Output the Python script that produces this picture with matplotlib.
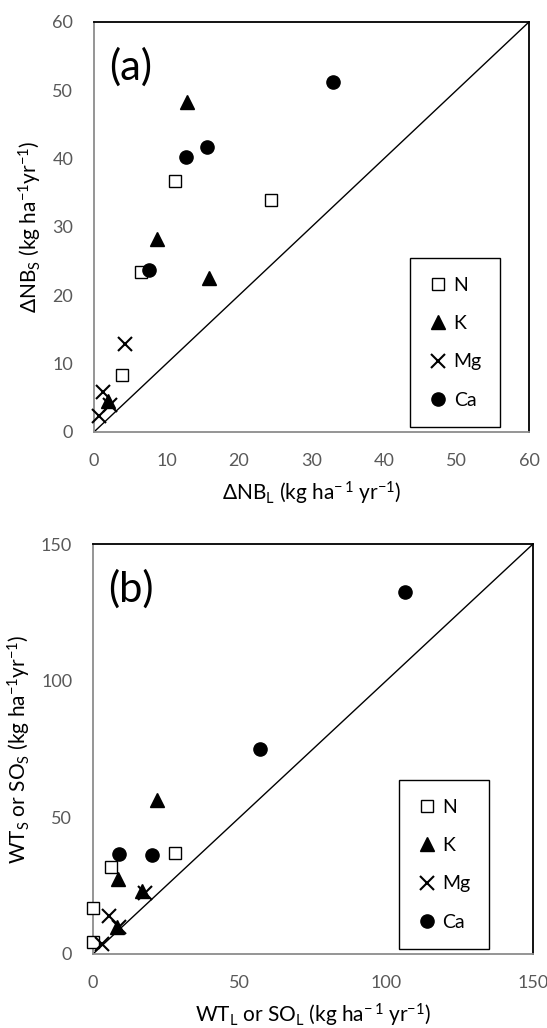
import matplotlib
matplotlib.use("Agg")
import matplotlib.pyplot as plt

plt.rcParams['font.family'] = ['Lato', 'DejaVu Sans']
plt.rcParams['mathtext.fontset'] = 'custom'
plt.rcParams['mathtext.rm'] = 'Lato'
plt.rcParams['mathtext.it'] = 'Lato'

elements = ['N', 'K', 'Mg', 'Ca']

# panel (a): delta NB_L vs delta NB_S
a_x = {
    'N': [11.2, 24.4, 6.5, 3.9],
    'K': [12.9, 8.7, 15.8, 2.0],
    'Mg': [4.3, 1.3, 0.7, 2.2],
    'Ca': [33.0, 15.6, 12.7, 7.6],
}
a_y = {
    'N': [36.8, 34.0, 23.4, 8.3],
    'K': [48.3, 28.3, 22.6, 4.6],
    'Mg': [12.9, 5.8, 2.4, 4.0],
    'Ca': [51.2, 41.7, 40.3, 23.7],
}

# panel (b): WT_L / SO_L vs WT_S / SO_S
b_x = {
    'N': [27.8, 6.2, 0.1, 0.1],
    'K': [21.8, 8.5, 16.8, 8.2],
    'Mg': [17.8, 5.4, 9.0, 3.2],
    'Ca': [106.4, 57.0, 9.0, 20.2],
}
b_y = {
    'N': [37.1, 31.8, 16.8, 4.4],
    'K': [56.5, 27.4, 23.0, 9.8],
    'Mg': [22.2, 13.9, 9.8, 3.7],
    'Ca': [132.6, 75.1, 36.5, 36.1],
}

styles = {
    'N': dict(marker='s', markerfacecolor='white', markeredgecolor='black', markersize=8.5, markeredgewidth=1.0),
    'K': dict(marker='^', color='black', markersize=9.5),
    'Mg': dict(marker='x', color='black', markersize=9.5, markeredgewidth=1.5),
    'Ca': dict(marker='o', color='black', markersize=9.5),
}

tick_color = '#595959'


def draw_panel(ax, xs, ys, lim, ticks, tag, xlabel, ylabel, leg_anchor):
    for el in elements:
        ax.plot(xs[el], ys[el], linestyle='none', label=el, clip_on=False,
                zorder=3, **styles[el])
    ax.plot([0, lim], [0, lim], color='black', lw=1.0, zorder=2)
    ax.set_xlim(0, lim)
    ax.set_ylim(0, lim)
    ax.set_xticks(ticks)
    ax.set_yticks(ticks)
    ax.tick_params(length=0, labelsize=13, colors=tick_color, pad=15)
    for s in ['top', 'right']:
        ax.spines[s].set_color('black')
        ax.spines[s].set_linewidth(1.3)
    for s in ['left', 'bottom']:
        ax.spines[s].set_color('#8c8c8c')
        ax.spines[s].set_linewidth(1.3)
    ax.text(0.035, 0.89, tag, transform=ax.transAxes, fontsize=30, va='center', ha='left')
    ax.set_xlabel(xlabel, fontsize=15, labelpad=8)
    ax.set_ylabel(ylabel, fontsize=15, labelpad=6)
    leg = ax.legend(loc='upper right', bbox_to_anchor=leg_anchor, fontsize=14,
                    frameon=True, fancybox=False, edgecolor='black', framealpha=1,
                    labelspacing=1.1, borderpad=0.95, handlelength=1.0,
                    handletextpad=0.3, borderaxespad=0)
    leg.get_frame().set_linewidth(1.0)
    leg.set_zorder(5)


fig = plt.figure(figsize=(5.47, 10.28), dpi=100)
ax_a = fig.add_axes([0.1718, 0.5798, 0.7952, 0.3988])
ax_b = fig.add_axes([0.1700, 0.0720, 0.8044, 0.3988])

draw_panel(ax_a, a_x, a_y, 60, [0, 10, 20, 30, 40, 50, 60], '(a)',
           r'ΔNB$_\mathrm{L}$ (kg ha$^{\mathrm{-\,1}}$ yr$^{\mathrm{-1}}$)',
           r'ΔNB$_\mathrm{S}$ (kg ha$^{\mathrm{-1}}$yr$^{\mathrm{-1}}$)',
           (0.934, 0.424))
draw_panel(ax_b, b_x, b_y, 150, [0, 50, 100, 150], '(b)',
           r'WT$_\mathrm{L}$ or SO$_\mathrm{L}$ (kg ha$^{\mathrm{-\,1}}$ yr$^{\mathrm{-1}}$)',
           r'WT$_\mathrm{S}$ or SO$_\mathrm{S}$ (kg ha$^{\mathrm{-1}}$yr$^{\mathrm{-1}}$)',
           (0.900, 0.424))

fig.savefig('out.png', dpi=100)
